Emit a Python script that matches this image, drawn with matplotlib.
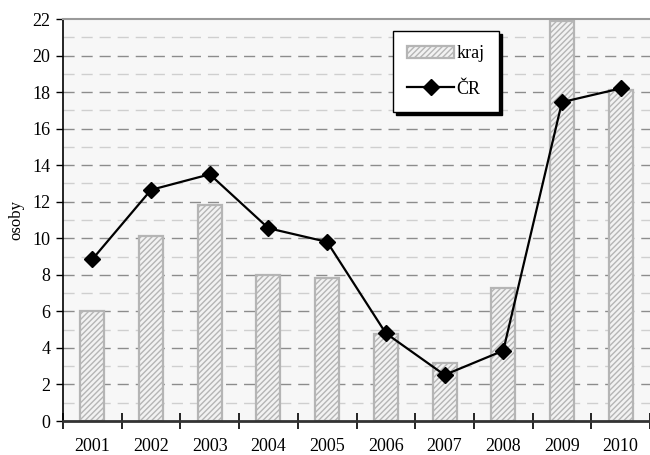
import matplotlib

matplotlib.use("Agg")
import matplotlib.pyplot as plt
from matplotlib.ticker import FixedLocator, NullFormatter

years = ["2001", "2002", "2003", "2004", "2005", "2006", "2007", "2008", "2009", "2010"]
kraj = [6.0, 10.1, 11.8, 8.0, 7.8, 4.75, 3.2, 7.3, 21.9, 18.1]
cr = [8.85, 12.65, 13.5, 10.55, 9.8, 4.8, 2.52, 3.85, 17.45, 18.2]

plt.rcParams["font.family"] = ["Liberation Serif", "DejaVu Serif"]
plt.rcParams["hatch.linewidth"] = 1.0
plt.rcParams["hatch.color"] = "#c4c4c4"

fig = plt.figure(figsize=(6.5, 4.55), dpi=100)
ax = fig.add_axes([63 / 650, 34 / 455, 587 / 650, 402 / 455])
ax.set_facecolor("#f7f7f7")

x = list(range(len(years)))

# grid: even values darker, odd values lighter
for v in range(1, 22):
    color = "#8c8c8c" if v % 2 == 0 else "#cfcfcf"
    ax.axhline(v, color=color, lw=1, ls=(0, (8, 5)), zorder=0.5)

bars = ax.bar(x, kraj, width=0.41, color="#f2f2f2", edgecolor="#b5b5b5",
              hatch="//////", linewidth=1.6, label="kraj", zorder=2)
line, = ax.plot(x, cr, color="black", lw=1.6, marker="D", markersize=8.5,
                label="ČR", zorder=3)

ax.set_xlim(-0.5, len(years) - 0.5)
ax.set_ylim(0, 22)

ax.set_yticks(range(0, 23, 2))
ax.tick_params(axis="y", which="major", direction="out", length=5, width=1,
               labelsize=13, pad=4)

ax.xaxis.set_major_locator(FixedLocator([i + 0.5 for i in range(-1, len(years))]))
ax.xaxis.set_major_formatter(NullFormatter())
ax.xaxis.set_minor_locator(FixedLocator(x))
ax.set_xticklabels(years, minor=True)
ax.tick_params(axis="x", which="major", direction="inout", length=12, width=1.2)
ax.tick_params(axis="x", which="minor", length=0, labelsize=13, pad=12)

ax.spines["right"].set_visible(False)
ax.spines["top"].set_color("#9a9a9a")
ax.spines["top"].set_linewidth(1.5)
ax.spines["left"].set_linewidth(1.2)
ax.spines["bottom"].set_linewidth(2)
ax.spines["bottom"].set_color("#333333")

ax.set_ylabel("osoby", fontsize=12, labelpad=6)

leg = ax.legend([bars, line], ["kraj", "ČR"], loc="upper left",
                bbox_to_anchor=(393 / 650, 1 - 31 / 455),
                bbox_transform=fig.transFigure, borderaxespad=0,
                fancybox=False, framealpha=1, edgecolor="black",
                shadow={"color": "black", "alpha": 1, "ox": 2.5, "oy": -2.5},
                fontsize=13, handlelength=2.6, handletextpad=0.1,
                labelspacing=1.0, borderpad=0.8)
leg.get_frame().set_linewidth(1)

fig.savefig("out.png", dpi=100, facecolor="white")
